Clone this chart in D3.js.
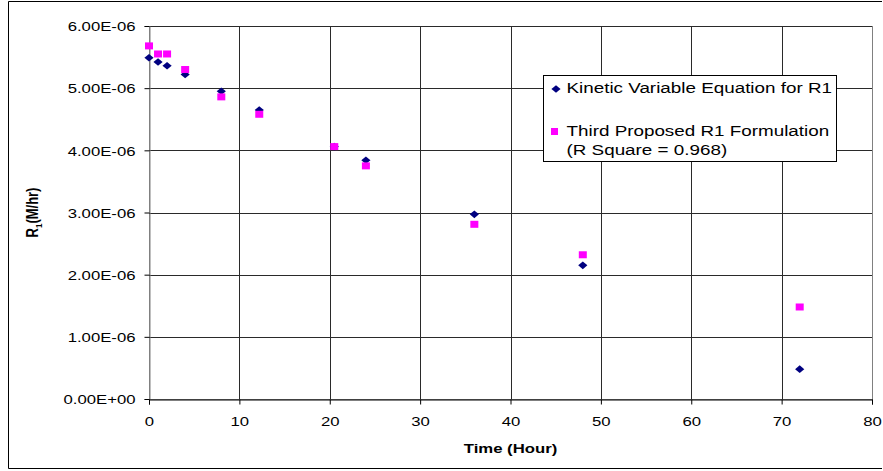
<!DOCTYPE html>
<html>
<head>
<meta charset="utf-8">
<script src="https://cdn.jsdelivr.net/npm/d3@7"></script>
<style>
  html, body { margin: 0; padding: 0; background: #fff; }
  svg { display: block; font-family: "Liberation Sans", Arial, sans-serif; }
</style>
</head>
<body>
<svg id="chart" width="883" height="471"></svg>
<script>
// Sampling times (hours)
const timeHours = [0, 1, 2, 4, 8, 12.2, 20.5, 24, 36, 48, 72];
// Rate R1 (M/hr) from the kinetic variable equation
const kineticR1 = [5.49e-6, 5.42e-6, 5.36e-6, 5.22e-6, 4.95e-6, 4.65e-6, 4.06e-6, 3.84e-6, 2.97e-6, 2.15e-6, 0.48e-6];
// Rate R1 (M/hr) from the third proposed formulation
const proposedR1 = [5.68e-6, 5.55e-6, 5.55e-6, 5.30e-6, 4.86e-6, 4.58e-6, 4.06e-6, 3.75e-6, 2.81e-6, 2.32e-6, 1.48e-6];
// Axis ticks
const xTicks = [0, 10, 20, 30, 40, 50, 60, 70, 80];
const yTicks = [0, 1e-6, 2e-6, 3e-6, 4e-6, 5e-6, 6e-6];
const yTickLabels = ["0.00E+00", "1.00E-06", "2.00E-06", "3.00E-06", "4.00E-06", "5.00E-06", "6.00E-06"];
const seriesNames = ["Kinetic Variable Equation for R1", "Third Proposed R1 Formulation", "(R Square = 0.968)"];

const SX = 1.24; // horizontal text stretch used throughout the chart
const svg = d3.select("#chart");
const plot = { left: 149, right: 872, top: 26, bottom: 399 };

const x = d3.scaleLinear().domain([0, 80]).range([plot.left, plot.right]);
const y = d3.scaleLinear().domain([0, 6e-6]).range([plot.bottom, plot.top]);

// Outer chart frame
svg.append("path")
  .attr("d", `M882,1.5 H8.5 V468.5 H882`)
  .attr("fill", "none").attr("stroke", "#000").attr("stroke-width", 1);

// Plot area border
svg.append("rect")
  .attr("x", plot.left + 0.5).attr("y", plot.top + 0.5)
  .attr("width", plot.right - plot.left).attr("height", plot.bottom - plot.top)
  .attr("fill", "none").attr("stroke", "#808080");

// Gridlines
const grid = svg.append("g").attr("stroke", "#2a2a2a").attr("stroke-width", 1);
grid.selectAll(".hg").data(yTicks.slice(1)).join("line")
  .attr("x1", plot.left).attr("x2", plot.right)
  .attr("y1", d => Math.round(y(d)) + 0.5).attr("y2", d => Math.round(y(d)) + 0.5);
grid.selectAll(".vg").data(xTicks.slice(1, -1)).join("line")
  .attr("y1", plot.top).attr("y2", plot.bottom)
  .attr("x1", d => Math.round(x(d)) + 0.5).attr("x2", d => Math.round(x(d)) + 0.5);

// Y axis
const yAxis = svg.append("g")
  .attr("transform", `translate(${plot.left + 0.5},0)`)
  .call(d3.axisLeft(y).tickValues(yTicks).tickFormat((d, i) => yTickLabels[i]).tickSize(5).tickPadding(9).offset(0.5));
yAxis.select(".domain").attr("stroke", "#808080");
yAxis.selectAll(".tick line").attr("stroke", "#000");
yAxis.selectAll(".tick text")
  .attr("font-size", 13.5).attr("font-family", "Liberation Sans, Arial, sans-serif").attr("fill", "#000")
  .attr("x", -14 / SX).attr("dy", "0.35em")
  .attr("transform", `scale(${SX},1)`);

// X axis
const xAxis = svg.append("g")
  .attr("transform", `translate(0,${plot.bottom + 0.5})`)
  .call(d3.axisBottom(x).tickValues(xTicks).tickFormat(d3.format("d")).tickSize(5).tickPadding(12).offset(0.5));
xAxis.select(".domain").attr("stroke", "#000");
xAxis.selectAll(".tick line").attr("stroke", "#000");
xAxis.selectAll(".tick text")
  .attr("font-size", 13.5).attr("font-family", "Liberation Sans, Arial, sans-serif").attr("fill", "#000")
  .attr("transform", `scale(${SX},1)`);

// Axis titles
svg.append("text")
  .attr("transform", `translate(${(plot.left + plot.right) / 2},453) scale(${SX},1)`)
  .attr("text-anchor", "middle").attr("font-weight", "bold").attr("font-size", 13.5)
  .text("Time (Hour)");

const yTitle = svg.append("text")
  .attr("transform", `translate(38,${(plot.top + plot.bottom) / 2}) scale(${SX},1) rotate(-90)`)
  .attr("text-anchor", "middle").attr("font-weight", "bold").attr("font-size", 13);
yTitle.append("tspan").text("R");
yTitle.append("tspan").attr("font-size", 8).attr("dy", 3).text("1");
yTitle.append("tspan").attr("dy", -3).text("(M/hr)");

// Marker shapes
const diamond = (cx, cy) => `M${cx},${cy - 3.8} L${cx + 4.6},${cy} L${cx},${cy + 3.8} L${cx - 4.6},${cy} Z`;

const kinetic = timeHours.map((t, i) => ({ t, v: kineticR1[i] }));
const proposed = timeHours.map((t, i) => ({ t, v: proposedR1[i] }));

svg.append("g").selectAll("path").data(kinetic).join("path")
  .attr("d", d => diamond(x(d.t), y(d.v)))
  .attr("fill", "#000080");

svg.append("g").selectAll("rect").data(proposed).join("rect")
  .attr("x", d => x(d.t) - 4).attr("y", d => y(d.v) - 3.5)
  .attr("width", 8).attr("height", 7)
  .attr("fill", "#ff00ff");

// Legend
const lg = svg.append("g");
lg.append("rect")
  .attr("x", 543.5).attr("y", 75.5).attr("width", 293).attr("height", 86)
  .attr("fill", "#fff").attr("stroke", "#000");
lg.append("path").attr("d", diamond(556, 89)).attr("fill", "#000080");
lg.append("rect").attr("x", 551).attr("y", 128).attr("width", 7).attr("height", 7).attr("fill", "#ff00ff");
const legendLines = [
  { text: seriesNames[0], y: 93 },
  { text: seriesNames[1], y: 136 },
  { text: seriesNames[2], y: 155 }
];
lg.selectAll("text.lt").data(legendLines).join("text")
  .attr("transform", d => `translate(566.5,${d.y}) scale(${SX + 0.06},1)`)
  .attr("font-size", 14.5)
  .text(d => d.text);
</script>
</body>
</html>
